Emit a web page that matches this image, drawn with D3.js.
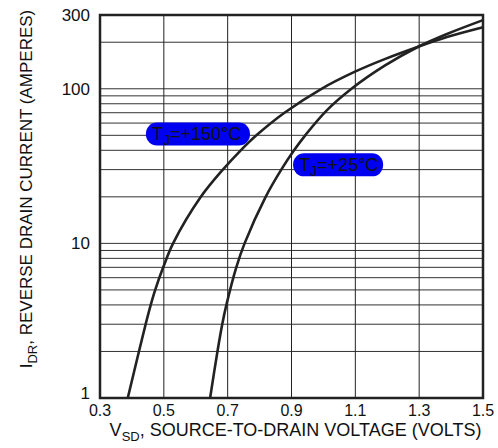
<!DOCTYPE html>
<html>
<head>
<meta charset="utf-8">
<script src="https://cdn.jsdelivr.net/npm/d3@7"></script>
<style>
  body { margin: 0; background: #fff; }
  text { font-family: "Liberation Sans", Arial, sans-serif; fill: #111; }
</style>
</head>
<body>
<div id="chart"></div>
<script>
/**
* DATA
* */
const xTicks = [0.3, 0.5, 0.7, 0.9, 1.1, 1.3, 1.5];
const yTicks = [1, 10, 100, 300];
const yGrid = [1, 2, 3, 4, 5, 6, 7, 8, 9, 10, 20, 30, 40, 50, 60, 70, 80, 90, 100, 200, 300];

// TJ = +150°C
const vsd150 = [0.387, 0.422, 0.443, 0.459, 0.473, 0.498, 0.529, 0.616, 0.685, 0.741, 0.79, 0.878, 0.994, 1.099, 1.19, 1.297, 1.387, 1.5];
const idr150 = [1, 2, 3, 4, 5, 7, 10, 20, 30, 40, 50, 70, 100, 129, 155, 187, 216, 250];

// TJ = +25°C
const vsd25 = [0.645, 0.668, 0.683, 0.696, 0.727, 0.753, 0.819, 0.868, 0.908, 0.943, 1.009, 1.088, 1.192, 1.297, 1.389, 1.5];
const idr25 = [1, 2, 3, 4, 7, 10, 20, 30, 40, 50, 72, 100, 141, 187, 227, 278];

const curveLabels = ["=+150°C", "=+25°C"];

const width = 498;
const height = 448;
const margin = { top: 15, right: 15, bottom: 50, left: 100 };

/**
* SCALES
* */
const x = d3.scaleLinear()
    .domain([0.3, 1.5])
    .range([margin.left, width - margin.right]);

const y = d3.scaleLog()
    .domain([1, 300])
    .range([height - margin.bottom, margin.top]);

const svg = d3.select("#chart")
    .append("svg")
    .attr("width", width)
    .attr("height", height);

// + GRID
svg.append("g")
    .selectAll("line")
    .data(yGrid)
    .join("line")
    .attr("x1", x(0.3))
    .attr("x2", x(1.5))
    .attr("y1", d => y(d))
    .attr("y2", d => y(d))
    .attr("stroke", "#333")
    .attr("stroke-width", 1);

svg.append("g")
    .selectAll("line")
    .data(xTicks)
    .join("line")
    .attr("x1", d => x(d))
    .attr("x2", d => x(d))
    .attr("y1", y(1))
    .attr("y2", y(300))
    .attr("stroke", "#222")
    .attr("stroke-width", 1);

// frame
svg.append("rect")
    .attr("x", x(0.3))
    .attr("y", y(300))
    .attr("width", x(1.5) - x(0.3))
    .attr("height", y(1) - y(300))
    .attr("fill", "none")
    .attr("stroke", "#222")
    .attr("stroke-width", 2.5);

// + TICK LABELS
svg.append("g")
    .selectAll("text")
    .data(xTicks)
    .join("text")
    .attr("x", d => x(d))
    .attr("y", y(1) + 18)
    .attr("text-anchor", "middle")
    .attr("font-size", 16)
    .text(d => d3.format(".1f")(d));

svg.append("g")
    .selectAll("text")
    .data(yTicks)
    .join("text")
    .attr("x", x(0.3) - 10)
    .attr("y", d => y(d) + (d === 1 ? 1 : 6))
    .attr("text-anchor", "end")
    .attr("font-size", 17)
    .text(d => d);

// + CURVES
const line = d3.line()
    .x(d => x(d[0]))
    .y(d => y(d[1]))
    .curve(d3.curveCatmullRom.alpha(0.5));

[d3.zip(vsd150, idr150), d3.zip(vsd25, idr25)].forEach(pts => {
    svg.append("path")
        .datum(pts)
        .attr("d", line)
        .attr("fill", "none")
        .attr("stroke", "#222")
        .attr("stroke-width", 2.6);
});

// + CURVE LABELS (blue pills)
const labelSpots = [
    { v: 0.444, i: 51, w: 104 },
    { v: 0.905, i: 32.2, w: 90 }
];

labelSpots.forEach((s, k) => {
    const g = svg.append("g")
        .attr("transform", `translate(${x(s.v)},${y(s.i)})`);
    g.append("rect")
        .attr("x", 0)
        .attr("y", -11.5)
        .attr("width", s.w)
        .attr("height", 23)
        .attr("rx", 11)
        .attr("fill", "#0000f0");
    const t = g.append("text")
        .attr("x", 6)
        .attr("y", 6)
        .attr("font-size", 18);
    t.append("tspan").text("T");
    t.append("tspan").attr("dy", 5).attr("font-size", 14).text("J");
    t.append("tspan").attr("dy", -5).text(curveLabels[k]);
});

// + AXIS TITLES
const xTitle = svg.append("text")
    .attr("x", (x(0.3) + x(1.5)) / 2 + 4)
    .attr("y", 436)
    .attr("text-anchor", "middle")
    .attr("font-size", 18);
xTitle.append("tspan").text("V");
xTitle.append("tspan").attr("dy", 5).attr("font-size", 13).text("SD");
xTitle.append("tspan").attr("dy", -5).text(", SOURCE-TO-DRAIN VOLTAGE (VOLTS)");

const yTitle = svg.append("text")
    .attr("transform", `translate(32,${189}) rotate(-90)`)
    .attr("text-anchor", "middle")
    .attr("font-size", 17);
yTitle.append("tspan").text("I");
yTitle.append("tspan").attr("dy", 5).attr("font-size", 13).text("DR");
yTitle.append("tspan").attr("dy", -5).text(", REVERSE DRAIN CURRENT (AMPERES)");
</script>
</body>
</html>
